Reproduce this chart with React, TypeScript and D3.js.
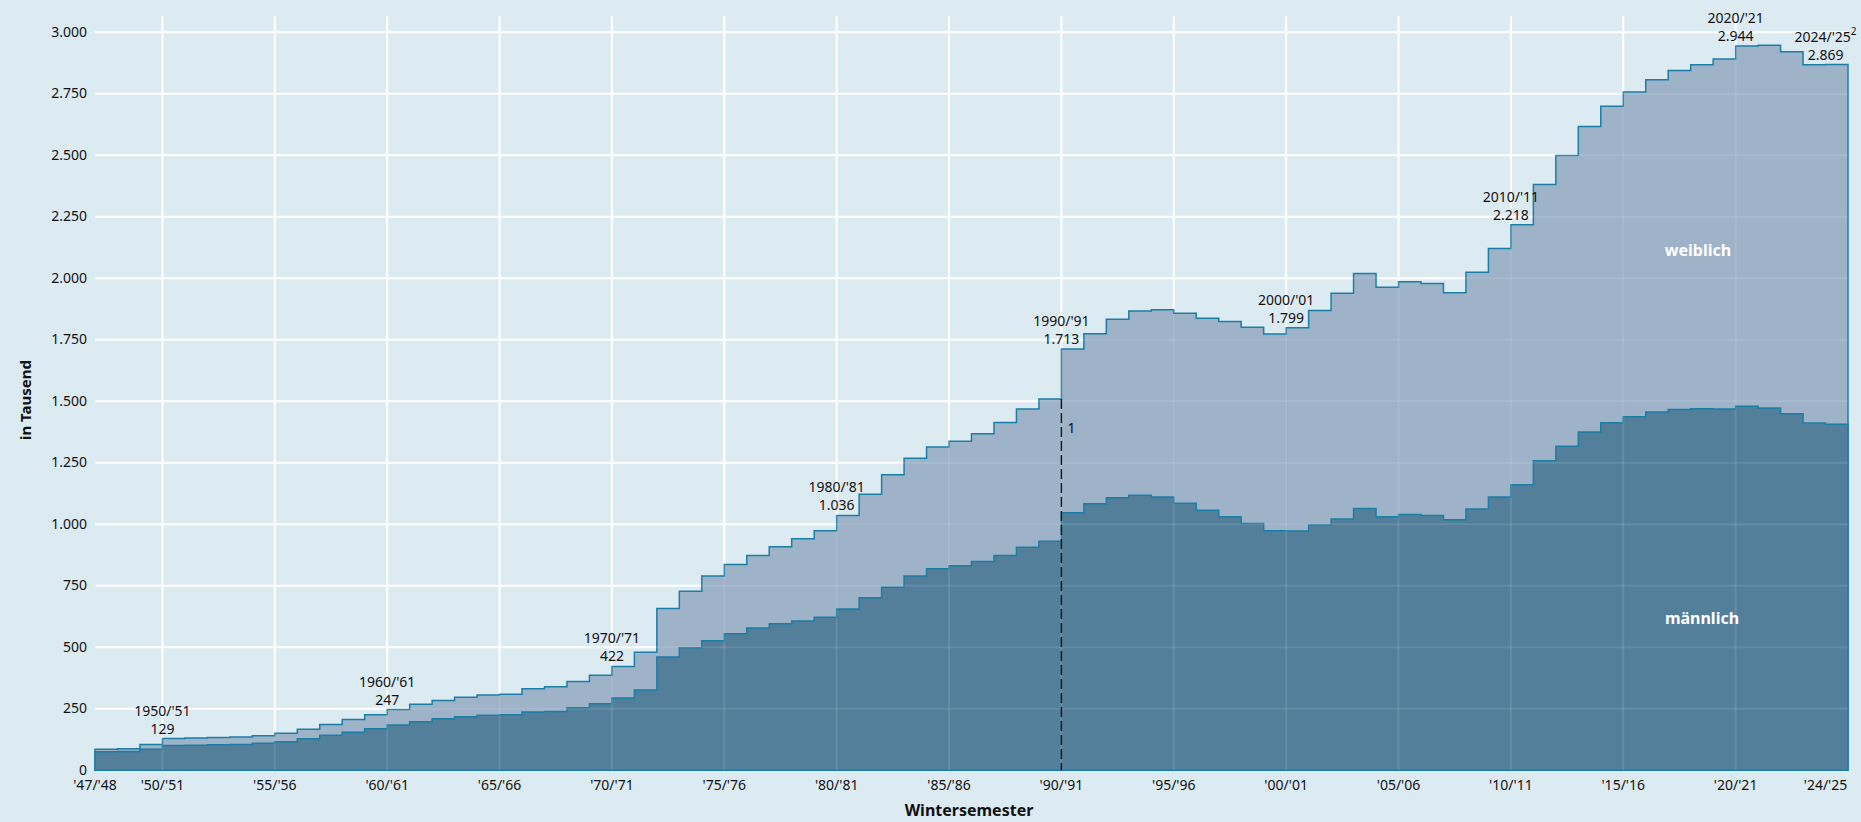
import React from 'react';
import * as d3 from 'd3';

// Studierende im Wintersemester, in Tausend
const years = d3.range(1947, 2025);

const total = [
  86, 88, 105, 129, 131, 133, 135, 140, 151, 167, 186, 207, 226, 247, 268, 284, 297, 306, 309, 332,
  340, 361, 386, 422, 480, 658, 728, 790, 837, 873, 909, 941, 974, 1036, 1122, 1201, 1269, 1314, 1338,
  1368, 1414, 1469, 1509, 1713, 1775, 1834, 1867, 1872, 1858, 1838, 1824, 1801, 1774, 1799, 1869, 1939,
  2020, 1964, 1986, 1979, 1941, 2025, 2121, 2218, 2381, 2499, 2617, 2699, 2757, 2807, 2845, 2868, 2891,
  2944, 2947, 2921, 2868, 2869,
];

const male = [
  75, 76, 86, 101, 102, 104, 105, 110, 116, 128, 142, 155, 169, 184, 197, 210, 218, 224, 226, 237, 239,
  254, 271, 294, 326, 461, 498, 527, 555, 578, 596, 607, 622, 656, 701, 744, 790, 819, 831, 849, 873, 907,
  931, 1047, 1084, 1108, 1118, 1111, 1086, 1057, 1031, 1003, 974, 973, 997, 1022, 1064, 1031, 1040, 1036,
  1019, 1062, 1111, 1161, 1258, 1317, 1375, 1413, 1437, 1457, 1467, 1470, 1469, 1480, 1473, 1449, 1412,
  1407,
];

const xTickYears = [1947, 1950, 1955, 1960, 1965, 1970, 1975, 1980, 1985, 1990, 1995, 2000, 2005, 2010, 2015, 2020, 2024];
const gridYears = [1950, 1955, 1960, 1965, 1970, 1975, 1980, 1985, 1990, 1995, 2000, 2005, 2010, 2015, 2020];
const yTicks = d3.range(0, 3001, 250);
const labelYears = [1950, 1960, 1970, 1980, 1990, 2000, 2010, 2020, 2024];

const de = d3.formatLocale({ decimal: ',', thousands: '.', grouping: [3], currency: ['', ' €'] });
const fmt = de.format(',d');

const W = 1861;
const H = 822;
const FONT = '"Noto Sans", "Open Sans", sans-serif';

const yy = (y: number) => String(y % 100).padStart(2, '0');

export default function App() {
  const x = d3.scaleLinear().domain([1947, 2025]).range([95, 1848]);
  const y = d3.scaleLinear().domain([0, 3000]).range([770.3, 32.3]);

  const rows = years.map((yr, i) => ({ yr, t: total[i], m: male[i] }));
  const last = rows[rows.length - 1];
  const stepRows = [...rows, { yr: 2025, t: last.t, m: last.m }];

  const areaTotal = d3
    .area<{ yr: number; t: number; m: number }>()
    .x((d) => x(d.yr))
    .y0(y(0))
    .y1((d) => y(d.t))
    .curve(d3.curveStepAfter);

  const areaMale = d3
    .area<{ yr: number; t: number; m: number }>()
    .x((d) => x(d.yr))
    .y0(y(0))
    .y1((d) => y(d.m))
    .curve(d3.curveStepAfter);

  const grid = (opacity: number) => (
    <g stroke="#ffffff" strokeWidth={2} strokeOpacity={opacity}>
      {yTicks
        .filter((v) => v > 0)
        .map((v) => (
          <line key={'h' + v} x1={x(1947)} x2={x(2025)} y1={y(v)} y2={y(v)} />
        ))}
      {gridYears.map((g) => (
        <line key={'v' + g} x1={x(g)} x2={x(g)} y1={16} y2={y(0)} />
      ))}
    </g>
  );

  const idx1990 = years.indexOf(1990);

  return (
    <svg width={W} height={H} style={{ position: 'absolute', left: 0, top: 0 }} fontFamily={FONT}>
      <rect width={W} height={H} fill="#dcebf2" />
      {grid(1)}

      <path d={areaTotal(stepRows) || ''} fill="#9eb3c8" stroke="#1b7ea6" strokeWidth={1.5} />
      <path d={areaMale(stepRows) || ''} fill="#537f9b" stroke="#1b7ea6" strokeWidth={1.5} />
      {grid(0.1)}

      {/* Bruch 1990: ab hier Deutschland insgesamt */}
      <line
        x1={x(1990)}
        x2={x(1990)}
        y1={y(total[idx1990 - 1])}
        y2={y(0)}
        stroke="#111"
        strokeWidth={1.4}
        strokeDasharray="10,4"
      />
      <text x={x(1990) + 6} y={y(1390)} dy="0.35em" fontSize={14} fill="#111">
        1
      </text>

      {/* y-Achse */}
      {yTicks.map((v) => (
        <text key={'yt' + v} x={87} y={y(v)} dy="0.3em" textAnchor="end" fontSize={14} fill="#111">
          {fmt(v)}
        </text>
      ))}
      <text
        transform={`translate(31,400) rotate(-90)`}
        textAnchor="middle"
        fontSize={15}
        fontWeight="bold"
        fill="#111"
      >
        in Tausend
      </text>

      {/* x-Achse */}
      {xTickYears.map((t) => (
        <text key={'xt' + t} x={x(t)} y={790} textAnchor="middle" fontSize={14} fill="#111">
          {`'${yy(t)}/'${yy(t + 1)}`}
        </text>
      ))}
      <text x={969} y={816} textAnchor="middle" fontSize={16} fontWeight="bold" fill="#111">
        Wintersemester
      </text>

      {/* Werte-Beschriftungen */}
      {labelYears.map((ly) => {
        const v = total[years.indexOf(ly)];
        return (
          <g key={'lb' + ly} textAnchor="middle" fontSize={14} fill="#111">
            <text x={x(ly)} y={y(v) - 23}>
              {`${ly}/'${yy(ly + 1)}`}
              {ly === 2024 && (
                <tspan dy={-7} fontSize={10}>
                  2
                </tspan>
              )}
            </text>
            <text x={x(ly)} y={y(v) - 5}>
              {fmt(v)}
            </text>
          </g>
        );
      })}

      <text x={1698} y={256} textAnchor="middle" fontSize={16} fontWeight="bold" fill="#ffffff">
        weiblich
      </text>
      <text x={1702} y={624} textAnchor="middle" fontSize={16} fontWeight="bold" fill="#ffffff">
        männlich
      </text>
    </svg>
  );
}
